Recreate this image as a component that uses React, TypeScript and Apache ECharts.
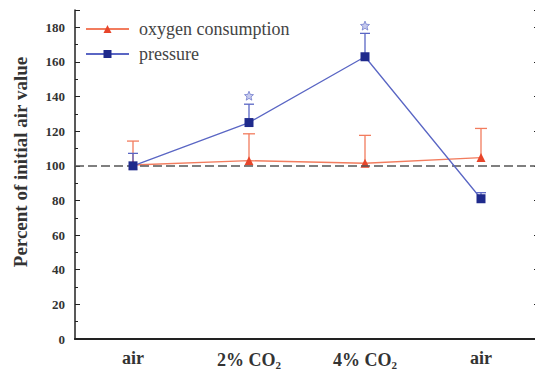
import React, { useEffect, useRef } from "react";
import * as echarts from "echarts";

const categories = ["air", "2% CO2", "4% CO2", "air"];
const oxygenValues = [100.5, 103, 101.5, 104.8];
const oxygenUpper = [114.3, 118.5, 117.6, 121.6];
const pressureValues = [100, 125, 163, 81];
const pressureUpper = [107.2, 135.6, 176.5, 84.5];
const significance = [null, 140.5, 181, null];
const yTicks = [0, 20, 40, 60, 80, 100, 120, 140, 160, 180];
const referenceValue = 100;
const yTitle = "Percent of initial air value";

const FONT = "'Liberation Serif', 'Times New Roman', serif";
const BLUE = "#1f2a8c";
const BLUE_LINE = "#5a66c4";
const RED = "#e8452a";
const RED_LINE = "#f27c5e";

const STAR =
  "path://M12 1l3.1 7.3 7.9.6-6 5.2 1.9 7.7L12 17.6 5.1 21.8 7 14.1 1 8.9l7.9-.6z";

function errorSeries(name: string, values: number[], upper: number[], color: string, cap: number) {
  return {
    name: name + "-err",
    type: "custom",
    silent: true,
    z: 3,
    data: values.map((v, i) => [i, v, upper[i]]),
    renderItem: (_params: any, api: any) => {
      const x = api.value(0);
      const lo = api.coord([x, api.value(1)]);
      const hi = api.coord([x, api.value(2)]);
      const style = { stroke: color, lineWidth: 1.3 };
      return {
        type: "group",
        children: [
          { type: "line", shape: { x1: lo[0], y1: lo[1], x2: hi[0], y2: hi[1] }, style },
          { type: "line", shape: { x1: hi[0] - cap, y1: hi[1], x2: hi[0] + cap, y2: hi[1] }, style },
        ],
      };
    },
  };
}

export default function App() {
  const ref = useRef<HTMLDivElement>(null);
  useEffect(() => {
    document.body.style.margin = "0";
    const chart = echarts.init(ref.current!, undefined, { renderer: "svg" });
    const labelFmt = (v: string) => {
      const m = v.match(/^(.*CO)2$/);
      return m ? `{m|${m[1]}}{s|2}` : `{m|${v}}`;
    };
    chart.setOption({
      animation: false,
      backgroundColor: "#ffffff",
      textStyle: { fontFamily: FONT },
      grid: { left: 75, top: 10, bottom: 35, width: 464, outerBoundsMode: "none" },
      graphic: [
        {
          type: "text",
          x: 20,
          y: 162,
          rotation: Math.PI / 2,
          style: {
            text: yTitle,
            fontFamily: FONT,
            fontSize: 19,
            fontWeight: "bold",
            fill: "#333",
            align: "center",
            verticalAlign: "middle",
          },
        },
      ],
      legend: {
        orient: "vertical",
        left: 80,
        top: 15,
        itemWidth: 43,
        itemHeight: 10,
        itemGap: 7,
        data: ["oxygen consumption", "pressure"],
        formatter: (name: string) => `{t|${name}}`,
        textStyle: {
          fontFamily: FONT,
          fontSize: 18,
          color: "#444",
          rich: { t: { fontFamily: FONT, fontSize: 18, color: "#444", padding: [0, 0, 0, 5] } },
        },
      },
      xAxis: [
        {
          type: "category",
          data: categories,
          boundaryGap: true,
          axisLine: { lineStyle: { color: "#222", width: 1.5 } },
          axisTick: { inside: true, alignWithLabel: true, length: 5, lineStyle: { color: "#222" } },
          axisLabel: {
            margin: 10,
            formatter: labelFmt,
            rich: {
              m: { fontFamily: FONT, fontSize: 18, fontWeight: "bold", color: "#333" },
              s: { fontFamily: FONT, fontSize: 11, fontWeight: "bold", color: "#333", verticalAlign: "bottom", padding: [10, 0, 0, 0] },
            },
          },
          splitLine: { show: false },
        },
        {
          type: "category",
          position: "top",
          data: categories,
          boundaryGap: true,
          axisLine: { lineStyle: { color: "#222", width: 2 } },
          axisTick: { inside: true, alignWithLabel: true, length: 5, lineStyle: { color: "#222" } },
          axisLabel: { show: false },
        },
      ],
      yAxis: [
        {
          type: "value",
          min: 0,
          max: 190,
          interval: 20,
          axisLine: { show: true, lineStyle: { color: "#222", width: 1.5 } },
          axisTick: { show: true, inside: true, length: 5, lineStyle: { color: "#222" } },
          minorTick: { show: true, splitNumber: 2, length: 3, lineStyle: { color: "#222" } },
          axisLabel: {
            margin: 10,
            formatter: (v: number) => (yTicks.includes(v) ? `{v|${v}}` : ""),
            rich: { v: { fontFamily: FONT, fontSize: 13, fontWeight: "bold", color: "#333" } },
          },
          splitLine: { show: false },
        },
        {
          type: "value",
          position: "right",
          min: 0,
          max: 190,
          interval: 20,
          axisLine: { show: true, lineStyle: { color: "#222", width: 1.5 } },
          axisTick: { show: true, inside: true, length: 5, lineStyle: { color: "#222" } },
          minorTick: { show: true, splitNumber: 2, length: 3, lineStyle: { color: "#222" } },
          axisLabel: { show: false },
          splitLine: { show: false },
        },
      ],
      series: [
        errorSeries("oxygen consumption", oxygenValues, oxygenUpper, RED_LINE, 6),
        {
          name: "oxygen consumption",
          type: "line",
          data: oxygenValues,
          symbol: "triangle",
          symbolSize: 9,
          itemStyle: { color: RED },
          lineStyle: { color: RED_LINE, width: 1.3 },
          z: 4,
          markLine: {
            silent: true,
            symbol: "none",
            label: { show: false },
            lineStyle: { color: "#555", type: [9, 4], width: 1.5 },
            data: [{ yAxis: referenceValue }],
          },
        },
        errorSeries("pressure", pressureValues, pressureUpper, BLUE_LINE, 5),
        {
          name: "pressure",
          type: "line",
          data: pressureValues,
          symbol: "rect",
          symbolSize: 9,
          itemStyle: { color: BLUE },
          lineStyle: { color: BLUE_LINE, width: 1.3 },
          z: 5,
        },
        {
          name: "significance",
          type: "scatter",
          data: significance,
          symbol: STAR,
          symbolSize: 9,
          itemStyle: { color: "#b8bde8", borderColor: BLUE_LINE, borderWidth: 0.8 },
          z: 5,
        },
      ],
    });
    return () => chart.dispose();
  }, []);
  return <div ref={ref} style={{ width: 535, height: 374 }} />;
}
